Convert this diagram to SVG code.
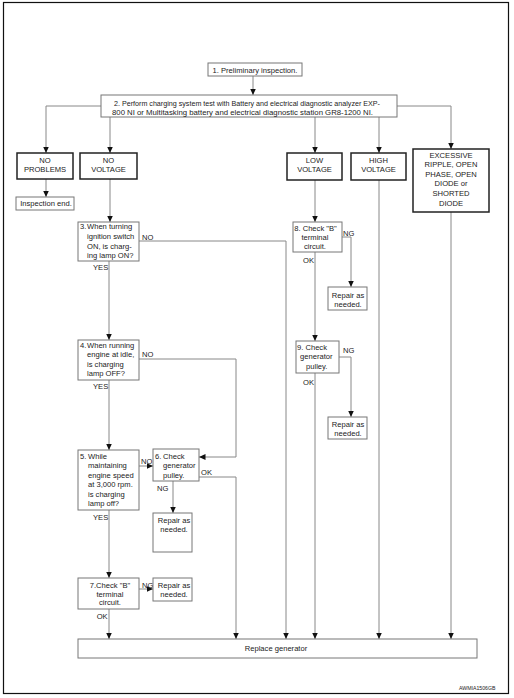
<svg xmlns="http://www.w3.org/2000/svg" width="514" height="698" viewBox="0 0 514 698">
<style>
text{font-family:"Liberation Sans",Arial,sans-serif;font-size:7.6px;fill:#222}
.c{text-anchor:middle}
.box{fill:#fff;stroke:#777;stroke-width:1}
.cat{fill:#fff;stroke:#222;stroke-width:1.5}
.ln{fill:none;stroke:#888;stroke-width:1}
.wm{font-size:5.2px}
</style>
<defs>
<marker id="ah" markerUnits="userSpaceOnUse" markerWidth="7" markerHeight="6" refX="6.5" refY="3" orient="auto">
<path d="M0,0 L6.5,3 L0,6 z" fill="#111"/>
</marker>
</defs>
<rect x="3.5" y="2.5" width="505" height="691" fill="#fff" stroke="#111" stroke-width="1.2"/>
<g id="connectors">
<path class="ln" d="M253,76 V95" marker-end="url(#ah)"/>
<path class="ln" d="M101,106 H46 V153" marker-end="url(#ah)"/>
<path class="ln" d="M110,117 V153" marker-end="url(#ah)"/>
<path class="ln" d="M315,117 V153" marker-end="url(#ah)"/>
<path class="ln" d="M379,117 V153" marker-end="url(#ah)"/>
<path class="ln" d="M397,106 H451 V149" marker-end="url(#ah)"/>
<path class="ln" d="M46,179 V197" marker-end="url(#ah)"/>
<path class="ln" d="M110,179 V222" marker-end="url(#ah)"/>
<path class="ln" d="M139,241 H286 V639" marker-end="url(#ah)"/>
<path class="ln" d="M109,261 V340" marker-end="url(#ah)"/>
<path class="ln" d="M139,359 H236 V457 H199" marker-end="url(#ah)"/>
<path class="ln" d="M109,380 V450" marker-end="url(#ah)"/>
<path class="ln" d="M139,466 H153" marker-end="url(#ah)"/>
<path class="ln" d="M199,477 H236 V639" marker-end="url(#ah)"/>
<path class="ln" d="M173,481 V513" marker-end="url(#ah)"/>
<path class="ln" d="M109,510 V578" marker-end="url(#ah)"/>
<path class="ln" d="M139,589 H153" marker-end="url(#ah)"/>
<path class="ln" d="M109,609 V639" marker-end="url(#ah)"/>
<path class="ln" d="M315,180 V222" marker-end="url(#ah)"/>
<path class="ln" d="M342,237 H351 V287" marker-end="url(#ah)"/>
<path class="ln" d="M315,252 V341" marker-end="url(#ah)"/>
<path class="ln" d="M339,357 H351 V417" marker-end="url(#ah)"/>
<path class="ln" d="M315,373 V639" marker-end="url(#ah)"/>
<path class="ln" d="M379,180 V639" marker-end="url(#ah)"/>
<path class="ln" d="M451,212 V639" marker-end="url(#ah)"/>
<text x="142" y="239.5">NO</text>
<text x="93" y="270">YES</text>
<text x="142" y="357">NO</text>
<text x="93" y="388.6">YES</text>
<text x="141" y="463.7">NO</text>
<text x="93" y="520">YES</text>
<text x="201" y="474.7">OK</text>
<text x="157" y="490.7">NG</text>
<text x="142" y="587.7">NG</text>
<text x="96.7" y="618.7">OK</text>
<text x="343" y="235.7">NG</text>
<text x="303" y="262.7">OK</text>
<text x="343" y="353.4">NG</text>
<text x="303" y="385.4">OK</text>
</g>
<g id="n1"><rect class="box" x="208" y="63" width="94" height="13"/><text class="c" x="255" y="72.5">1. Preliminary inspection.</text></g>
<g id="n2"><rect class="box" x="101" y="95" width="296" height="22"/>
<text x="114" y="106" textLength="266" lengthAdjust="spacingAndGlyphs">2. Perform charging system test with Battery and electrical diagnostic analyzer EXP-</text>
<text x="112" y="115" textLength="261" lengthAdjust="spacingAndGlyphs">800 NI or Multitasking battery and electrical diagnostic station GR8-1200 NI.</text></g>
<g id="noproblems"><rect class="cat" x="17" y="153" width="56" height="26"/><text class="c" x="45" y="163.4">NO</text><text class="c" x="45" y="172">PROBLEMS</text></g>
<g id="novoltage"><rect class="cat" x="80" y="153" width="57" height="26"/><text class="c" x="108.5" y="163.4">NO</text><text class="c" x="108.5" y="172">VOLTAGE</text></g>
<g id="lowvoltage"><rect class="cat" x="287" y="153" width="55" height="27"/><text class="c" x="314.5" y="163.4">LOW</text><text class="c" x="314.5" y="172">VOLTAGE</text></g>
<g id="highvoltage"><rect class="cat" x="351" y="153" width="55" height="27"/><text class="c" x="378.5" y="163.4">HIGH</text><text class="c" x="378.5" y="172">VOLTAGE</text></g>
<g id="excessive"><rect class="cat" x="413" y="149" width="76" height="63"/>
<text class="c" x="451" y="157.7">EXCESSIVE</text><text class="c" x="451" y="167.2">RIPPLE, OPEN</text><text class="c" x="451" y="176.7">PHASE, OPEN</text><text class="c" x="451" y="186.3">DIODE or</text><text class="c" x="451" y="195.9">SHORTED</text><text class="c" x="451" y="205.5">DIODE</text></g>
<g id="inspend"><rect class="box" x="16" y="197" width="58" height="13"/><text class="c" x="46" y="206.3">Inspection end.</text></g>
<g id="n3"><rect class="box" x="78" y="222" width="61" height="39"/>
<text x="80" y="228.5">3.</text><text x="87" y="229.4">When turning</text><text x="87" y="238.8">ignition switch</text><text x="87" y="248.6">ON, is charg-</text><text x="87" y="258.2">ing lamp ON?</text></g>
<g id="n4"><rect class="box" x="78" y="340" width="61" height="40"/>
<text x="80" y="347.6">4.</text><text x="87" y="347.6">When running</text><text x="87" y="357">engine at idle,</text><text x="87" y="366.6">is charging</text><text x="87" y="376">lamp OFF?</text></g>
<g id="n5"><rect class="box" x="78" y="450" width="61" height="60"/>
<text x="80" y="458.7">5.</text><text x="88" y="458.7">While</text><text x="88" y="468.4">maintaining</text><text x="88" y="477.7">engine speed</text><text x="88" y="487.4">at 3,000 rpm.</text><text x="88" y="496.7">is charging</text><text x="88" y="506">lamp off?</text></g>
<g id="n6"><rect class="box" x="153" y="449" width="46" height="32"/>
<text x="155" y="458.7">6.</text><text x="163" y="458.7">Check</text><text x="163" y="468.4">generator</text><text x="163" y="477.7">pulley.</text></g>
<g id="r6"><rect class="box" x="153" y="513" width="39" height="39"/><text class="c" x="174" y="522.7">Repair as</text><text class="c" x="174" y="532">needed.</text></g>
<g id="n7"><rect class="box" x="78" y="578" width="61" height="31"/>
<text class="c" x="110" y="587.7">7.Check "B"</text><text class="c" x="110" y="597">terminal</text><text class="c" x="110" y="605.4">circuit.</text></g>
<g id="r7"><rect class="box" x="153" y="578" width="39" height="23"/><text class="c" x="174" y="587.7">Repair as</text><text class="c" x="174" y="597">needed.</text></g>
<g id="n8"><rect class="box" x="293" y="222" width="49" height="30"/>
<text class="c" x="315.5" y="231">8. Check "B"</text><text class="c" x="315" y="240.4">terminal</text><text class="c" x="315" y="249.4">circuit.</text></g>
<g id="r8"><rect class="box" x="328" y="287" width="39" height="23"/><text class="c" x="348" y="297.7">Repair as</text><text class="c" x="348" y="306.7">needed.</text></g>
<g id="n9"><rect class="box" x="296" y="341" width="43" height="32"/>
<text x="297" y="350.4">9. Check</text><text x="300" y="359.4">generator</text><text x="306" y="369.4">pulley.</text></g>
<g id="r9"><rect class="box" x="328" y="417" width="39" height="22"/><text class="c" x="348" y="426.7">Repair as</text><text class="c" x="348" y="436">needed.</text></g>
<g id="replace"><rect class="box" x="78" y="639" width="399" height="19"/><text class="c" x="276" y="651">Replace generator</text></g>
<text class="wm" x="459" y="690">AWMIA1506GB</text>
</svg>
